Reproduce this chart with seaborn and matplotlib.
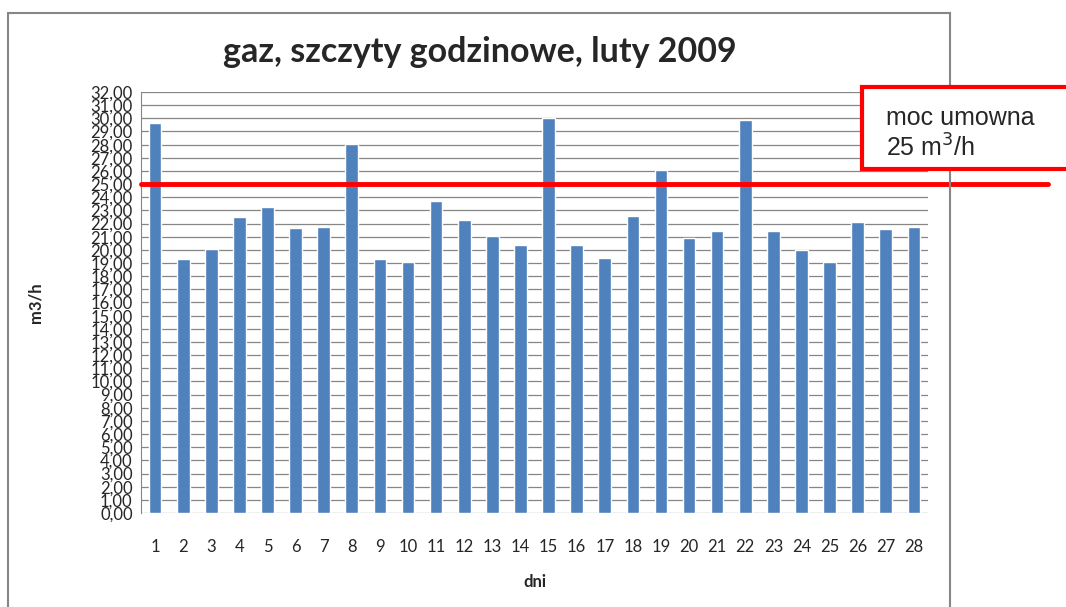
import pandas as pd
import seaborn as sns
import matplotlib.pyplot as plt
from matplotlib.patches import Rectangle
from matplotlib.ticker import FuncFormatter, MultipleLocator

# dane
dni = [str(d) for d in range(1, 29)]
szczyty = [29.65, 19.34, 20.10, 22.52, 23.23, 21.67, 21.75, 28.04, 19.34, 19.10,
           23.75, 22.30, 21.03, 20.35, 30.02, 20.35, 19.40, 22.58, 26.09, 20.88,
           21.45, 29.90, 21.45, 20.00, 19.05, 22.10, 21.60, 21.75]
moc_umowna = 25

df = pd.DataFrame({"dni": dni, "m3/h": szczyty})

sns.set_style("white")
plt.rcParams['font.family'] = ['Lato', 'DejaVu Sans']

fig = plt.figure(figsize=(10.66, 6.07), dpi=100)
ax = fig.add_axes([0.1323, 0.1549, 0.7382, 0.6935])

sns.barplot(data=df, x="dni", y="m3/h", color="#4F81BD", saturation=1,
            width=0.45, ax=ax, zorder=2)

ax.set_ylim(0, 32)
ax.set_xlim(-0.5, 27.5)
ax.yaxis.set_major_locator(MultipleLocator(1))
ax.yaxis.set_major_formatter(FuncFormatter(lambda v, p: f"{v:.2f}".replace(".", ",")))
ax.yaxis.grid(True, color="#868686", lw=0.9)
ax.set_axisbelow(True)
ax.get_ygridlines()[0].set_visible(False)

for s in ["top", "right", "bottom"]:
    ax.spines[s].set_visible(False)
ax.spines["left"].set_color("#868686")
ax.tick_params(axis="y", length=3, color="#868686", labelsize=12, pad=3)
ax.tick_params(axis="x", length=0, labelsize=12, pad=19)

ax.set_xlabel("dni", fontsize=12, fontweight="bold")
ax.xaxis.set_label_coords(0.5, -0.145)
ax.set_ylabel("m3/h", fontsize=12, fontweight="bold")
ax.yaxis.set_label_coords(-0.1245, 0.5)

fig.text(0.4505, 0.915, "gaz, szczyty godzinowe, luty 2009", ha="center", va="center",
         fontsize=24.5, fontweight="bold")

# linia mocy umownej
ax.axhline(moc_umowna, xmin=0, xmax=1.152, color="#FF0000", lw=3.5, clip_on=False, zorder=5)

# ramka wykresu
fig.patches.append(Rectangle((0.0075, -0.02), 0.8835, 0.9986, transform=fig.transFigure,
                             fill=False, edgecolor="#868686", lw=1.5, zorder=0))

# ramka z opisem
fig.patches.append(Rectangle((0.8086, 0.7216), 0.25, 0.1351, transform=fig.transFigure,
                             facecolor="white", edgecolor="#FF0000", lw=3, zorder=6))
fig.text(0.831, 0.806, "moc umowna", fontsize=18, family=["Liberation Sans"], va="center", zorder=7)
fig.text(0.831, 0.757, "25 m$^3$/h", fontsize=18, family=["Liberation Sans"], va="center", zorder=7)

fig.savefig("out.png", dpi=100)
